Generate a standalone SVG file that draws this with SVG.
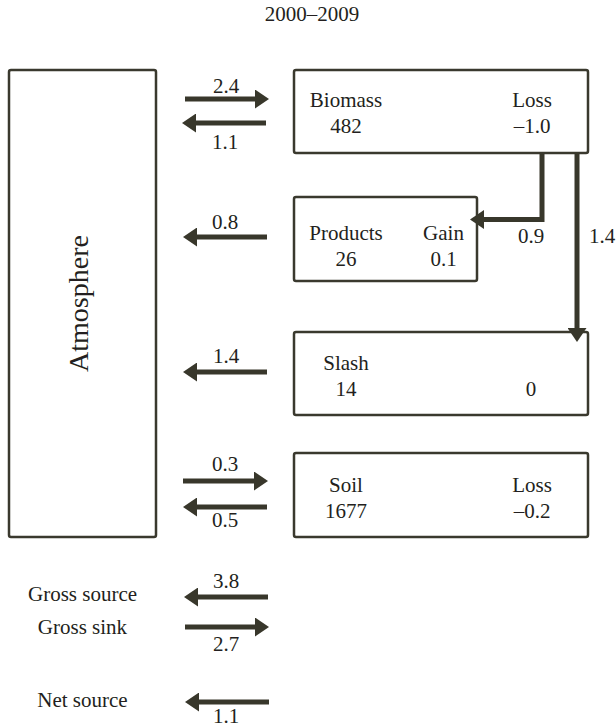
<svg xmlns="http://www.w3.org/2000/svg" width="616" height="728" viewBox="0 0 616 728">
<style>
text{font-family:"Liberation Serif","Times New Roman",serif;font-size:21px;fill:#231f20;text-anchor:middle}
.box{fill:#fff;stroke:#3a392e;stroke-width:2.5}
.arr{stroke:#38372b;stroke-width:5;fill:none}
</style>
<defs>
<marker id="ah" viewBox="0 0 14 19" markerWidth="14" markerHeight="19" markerUnits="userSpaceOnUse" refX="0" refY="9.5" orient="auto">
<path d="M0,0 L14,9.5 L0,19 z" fill="#38372b"/>
</marker>
</defs>
<rect width="616" height="728" fill="#fff"/>
<text id="title" x="312" y="21">2000–2009</text>
<g id="atmosphere">
<rect class="box" x="9" y="70" width="147" height="467" rx="2"/>
<text transform="translate(88,303.5) rotate(-90)" style="font-size:28px">Atmosphere</text>
</g>
<g id="biomass">
<rect class="box" x="294" y="70" width="294" height="83" rx="2"/>
<text x="346" y="107">Biomass</text>
<text x="346" y="133">482</text>
<text x="532" y="107">Loss</text>
<text x="532" y="133">–1.0</text>
</g>
<g id="products">
<rect class="box" x="294" y="197" width="183" height="84" rx="2"/>
<text x="346" y="240">Products</text>
<text x="346" y="266">26</text>
<text x="443.5" y="240">Gain</text>
<text x="443.5" y="266">0.1</text>
</g>
<g id="slash">
<rect class="box" x="294" y="332" width="294" height="83" rx="2"/>
<text x="346" y="370">Slash</text>
<text x="346" y="396">14</text>
<text x="531" y="396">0</text>
</g>
<g id="soil">
<rect class="box" x="294" y="453" width="294" height="84" rx="2"/>
<text x="346" y="492">Soil</text>
<text x="346" y="518">1677</text>
<text x="532" y="492">Loss</text>
<text x="532" y="518">–0.2</text>
</g>
<g id="summary">
<text x="82.5" y="601">Gross source</text>
<text x="82.5" y="634">Gross sink</text>
<text x="82.5" y="707">Net source</text>
</g>
<g id="connectors">
<line class="arr" x1="185" y1="99" x2="255" y2="99" marker-end="url(#ah)"/>
<line class="arr" x1="266" y1="123" x2="196" y2="123" marker-end="url(#ah)"/>
<line class="arr" x1="267" y1="237" x2="197" y2="237" marker-end="url(#ah)"/>
<line class="arr" x1="267" y1="372" x2="197" y2="372" marker-end="url(#ah)"/>
<line class="arr" x1="183" y1="481" x2="254" y2="481" marker-end="url(#ah)"/>
<line class="arr" x1="267" y1="507" x2="197" y2="507" marker-end="url(#ah)"/>
<line class="arr" x1="268" y1="597" x2="198" y2="597" marker-end="url(#ah)"/>
<line class="arr" x1="185" y1="627" x2="255" y2="627" marker-end="url(#ah)"/>
<line class="arr" x1="269" y1="702" x2="199" y2="702" marker-end="url(#ah)"/>
<polyline class="arr" points="542,153 542,219.5 484,219.5" marker-end="url(#ah)"/>
<polyline class="arr" points="577,153 577,328" marker-end="url(#ah)"/>
<text x="226" y="93">2.4</text>
<text x="225" y="149">1.1</text>
<text x="225" y="229">0.8</text>
<text x="226" y="363">1.4</text>
<text x="225" y="471">0.3</text>
<text x="225" y="527">0.5</text>
<text x="226" y="588">3.8</text>
<text x="226" y="651">2.7</text>
<text x="226" y="723">1.1</text>
<text x="531" y="243">0.9</text>
<text x="602" y="243">1.4</text>
</g>
</svg>
